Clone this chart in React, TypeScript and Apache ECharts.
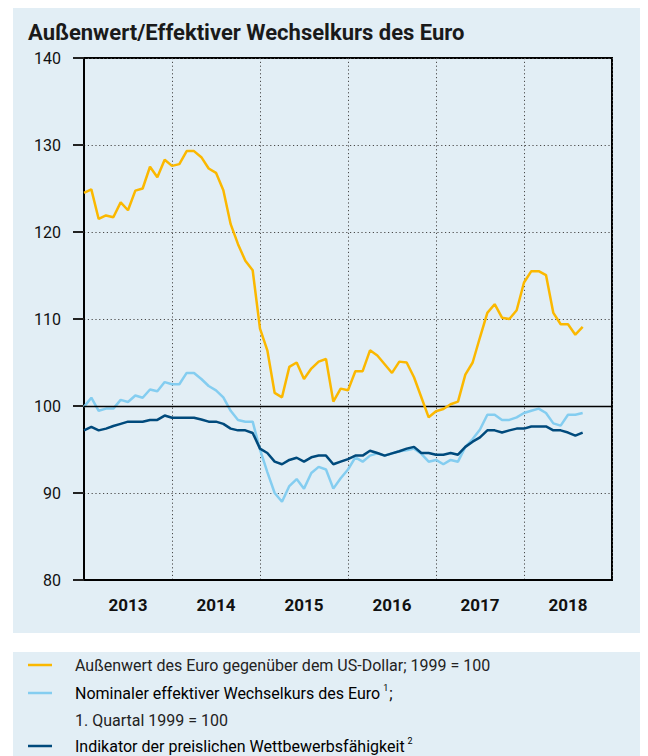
import React, { useEffect, useRef } from "react";
import * as echarts from "echarts";

// Year categories for the x axis (monthly data starting January 2013)
const years = ["2013", "2014", "2015", "2016", "2017", "2018"];

// Außenwert des Euro gegenüber dem US-Dollar; 1999 = 100 (monthly, Jan 2013 – Sep 2018)
const usdValue = [
  124.5, 124.9, 121.5, 121.9, 121.7, 123.4, 122.5, 124.75, 125.0, 127.5, 126.3, 128.3,
  127.6, 127.8, 129.3, 129.3, 128.6, 127.3, 126.8, 124.8, 120.9, 118.6, 116.7, 115.6,
  108.9, 106.4, 101.5, 101.0, 104.5, 105.0, 103.1, 104.3, 105.1, 105.4, 100.5, 102.0,
  101.8, 104.0, 104.0, 106.4, 105.8, 104.8, 103.8, 105.1, 105.0, 103.3, 101.0, 98.7,
  99.4, 99.65, 100.2, 100.5, 103.6, 105.0, 107.9, 110.7, 111.7, 110.15, 110.0, 111.0,
  114.2, 115.5, 115.5, 115.05, 110.7, 109.4, 109.4, 108.2, 109.1,
];

// Nominaler effektiver Wechselkurs des Euro; 1. Quartal 1999 = 100
const nominalEffective = [
  99.9, 100.95, 99.45, 99.7, 99.7, 100.7, 100.46, 101.2, 100.95, 101.9, 101.7, 102.75,
  102.5, 102.5, 103.8, 103.8, 103.1, 102.3, 101.8, 101.0, 99.45, 98.4, 98.2, 98.2,
  95.0, 92.4, 90.0, 89.0, 90.8, 91.6, 90.5, 92.3, 93.0, 92.7, 90.5, 91.7,
  92.7, 94.1, 93.6, 94.3, 94.55, 94.3, 94.55, 94.8, 94.9, 95.1, 94.5, 93.6,
  93.8, 93.3, 93.8, 93.6, 95.3, 96.2, 97.3, 99.0, 99.0, 98.4, 98.4, 98.7,
  99.2, 99.45, 99.7, 99.2, 98.0, 97.75, 99.0, 99.0, 99.2,
];

// Indikator der preislichen Wettbewerbsfähigkeit
const competitiveness = [
  97.2, 97.6, 97.2, 97.4, 97.7, 97.95, 98.2, 98.2, 98.2, 98.4, 98.4, 98.9,
  98.65, 98.65, 98.65, 98.65, 98.45, 98.2, 98.2, 97.95, 97.4, 97.2, 97.2, 96.9,
  95.1, 94.6, 93.6, 93.3, 93.8, 94.05, 93.6, 94.1, 94.3, 94.3, 93.3, 93.6,
  93.9, 94.3, 94.3, 94.85, 94.6, 94.3, 94.55, 94.8, 95.1, 95.3, 94.6, 94.6,
  94.4, 94.4, 94.6, 94.4, 95.3, 95.9, 96.4, 97.2, 97.2, 96.95, 97.2, 97.4,
  97.4, 97.65, 97.65, 97.65, 97.2, 97.2, 96.95, 96.6, 96.95,
];

const legendTexts = [
  "Außenwert des Euro gegenüber dem US-Dollar; 1999 = 100",
  "Nominaler effektiver Wechselkurs des Euro",
  "1. Quartal 1999 = 100",
  "Indikator der preislichen Wettbewerbsfähigkeit",
];

const TITLE = "Außenwert/Effektiver Wechselkurs des Euro";
const FONT = "Roboto, 'Open Sans', 'Noto Sans', sans-serif";
const PANEL = "#e2eef5";
const C_USD = "#fbb800";
const C_NOM = "#84cdf0";
const C_COMP = "#004a7c";

export default function App() {
  const ref = useRef<HTMLDivElement>(null);

  useEffect(() => {
    const chart = echarts.init(ref.current!, null, { renderer: "svg" });
    const toPts = (arr: number[]) => arr.map((v, i) => [i, v]);
    const dotted = { color: "#4a4a4a", width: 1, type: [1.2, 2.6] as any };

    chart.setOption({
      animation: false,
      backgroundColor: PANEL,
      textStyle: { fontFamily: FONT },
      grid: {
        left: 84,
        top: 58,
        width: 528,
        height: 522,
        show: true,
        borderColor: "#000",
        borderWidth: 2,
        backgroundColor: "transparent",
      },
      xAxis: [
        {
          type: "value",
          min: 0,
          max: 72,
          interval: 12,
          axisLine: { show: true, onZero: false, lineStyle: { color: "#000", width: 2 } },
          axisTick: { show: false },
          axisLabel: { show: false },
          splitLine: { show: true, lineStyle: dotted },
        },
        {
          type: "category",
          data: years,
          position: "bottom",
          boundaryGap: true,
          axisLine: { show: false },
          axisTick: { show: false },
          splitLine: { show: false },
          axisLabel: {
            fontSize: 17,
            fontWeight: "bold",
            color: "#111",
            margin: 16,
            fontFamily: FONT,
          },
        },
      ],
      yAxis: {
        type: "value",
        min: 80,
        max: 140,
        interval: 10,
        axisLine: { show: true, lineStyle: { color: "#000", width: 2 } },
        axisTick: { show: true, inside: false, length: 11, lineStyle: { color: "#222", width: 2 } },
        axisLabel: { fontSize: 16, color: "#111", margin: 23, fontFamily: FONT },
        splitLine: { show: true, lineStyle: dotted },
      },
      graphic: [
        // white page margins / gap between panels
        { type: "rect", shape: { x: 0, y: 0, width: 648, height: 8 }, style: { fill: "#fff" } },
        { type: "rect", shape: { x: 0, y: 0, width: 13, height: 756 }, style: { fill: "#fff" } },
        { type: "rect", shape: { x: 640, y: 0, width: 8, height: 756 }, style: { fill: "#fff" } },
        { type: "rect", shape: { x: 0, y: 633, width: 648, height: 19 }, style: { fill: "#fff" } },
        {
          type: "text",
          x: 28,
          y: 32,
          style: {
            text: TITLE,
            fontSize: 22,
            fontWeight: "bold",
            fontFamily: FONT,
            fill: "#1a1a1a",
            verticalAlign: "middle",
          },
        },
        // legend
        { type: "line", shape: { x1: 28, y1: 665, x2: 52, y2: 665 }, style: { stroke: C_USD, lineWidth: 2.5 } },
        { type: "line", shape: { x1: 28, y1: 693, x2: 52, y2: 693 }, style: { stroke: C_NOM, lineWidth: 2.5 } },
        { type: "line", shape: { x1: 28, y1: 746, x2: 52, y2: 746 }, style: { stroke: C_COMP, lineWidth: 2.5 } },
        {
          type: "text",
          x: 75,
          y: 665,
          style: { text: legendTexts[0], fontSize: 16, fontFamily: FONT, fill: "#222", verticalAlign: "middle" },
        },
        {
          type: "text",
          x: 75,
          y: 693,
          style: {
            text: "{a|" + legendTexts[1] + "}{s|1}{a|;}",
            verticalAlign: "middle",
            rich: {
              a: { fontSize: 16, fontFamily: FONT, color: "#222" },
              s: { fontSize: 9, fontFamily: FONT, color: "#222", padding: [0, 1, 10, 3] },
            },
          },
        },
        {
          type: "text",
          x: 75,
          y: 720,
          style: { text: legendTexts[2], fontSize: 16, fontFamily: FONT, fill: "#222", verticalAlign: "middle" },
        },
        {
          type: "text",
          x: 75,
          y: 746,
          style: {
            text: "{a|" + legendTexts[3] + "}{s|2}",
            verticalAlign: "middle",
            rich: {
              a: { fontSize: 16, fontFamily: FONT, color: "#222" },
              s: { fontSize: 9, fontFamily: FONT, color: "#222", padding: [0, 0, 10, 3] },
            },
          },
        },
      ],
      series: [
        {
          name: "Nominaler effektiver Wechselkurs",
          type: "line",
          xAxisIndex: 0,
          data: toPts(nominalEffective),
          showSymbol: false,
          lineStyle: { color: C_NOM, width: 2.5 },
          itemStyle: { color: C_NOM },
          z: 3,
        },
        {
          name: "Indikator der preislichen Wettbewerbsfähigkeit",
          type: "line",
          xAxisIndex: 0,
          data: toPts(competitiveness),
          showSymbol: false,
          lineStyle: { color: C_COMP, width: 2.5 },
          itemStyle: { color: C_COMP },
          z: 4,
        },
        {
          name: "Außenwert des Euro",
          type: "line",
          xAxisIndex: 0,
          data: toPts(usdValue),
          showSymbol: false,
          lineStyle: { color: C_USD, width: 2.5 },
          itemStyle: { color: C_USD },
          z: 5,
          markLine: {
            silent: true,
            symbol: ["none", "none"],
            label: { show: false },
            lineStyle: { color: "#000", type: "solid", width: 1.3 },
            data: [{ yAxis: 100 }],
          },
        },
      ],
    });

    return () => chart.dispose();
  }, []);

  return (
    <div
      ref={ref}
      style={{ position: "absolute", left: 0, top: 0, width: 648, height: 756 }}
    />
  );
}
